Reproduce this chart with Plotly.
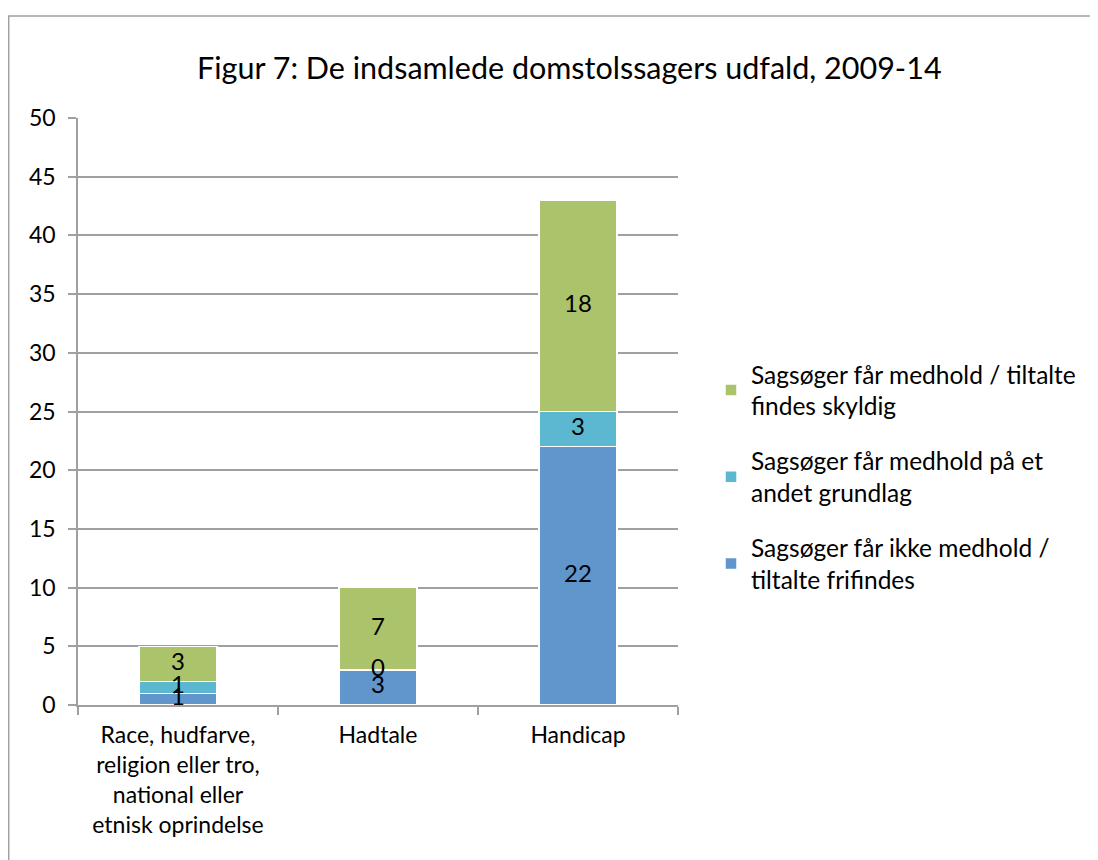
import plotly.graph_objects as go

categories = ["Race, hudfarve,<br>religion eller tro,<br>national eller<br>etnisk oprindelse", "Hadtale", "Handicap"]
series_names = [
    "Sagsøger får ikke medhold /<br>tiltalte frifindes",
    "Sagsøger får medhold på et<br>andet grundlag",
    "Sagsøger får medhold / tiltalte<br>findes skyldig",
]
ikke_medhold = [1, 3, 22]
andet_grundlag = [1, 0, 3]
skyldig = [3, 7, 18]
colors = ["#6096cb", "#5bb8d0", "#abc46c"]
y_ticks = [0, 5, 10, 15, 20, 25, 30, 35, 40, 45, 50]

FONT = "Lato, Open Sans, sans-serif"
series = [ikke_medhold, andet_grundlag, skyldig]

fig = go.Figure()
for i, (name, vals) in enumerate(zip(series_names, series)):
    fig.add_trace(go.Bar(
        x=categories, y=vals, name=name,
        marker=dict(color=colors[i], line=dict(color="white", width=1.5)),
        width=0.39, legendgroup=str(i), legendrank=3 - i,
    ))

# data labels at segment midpoints
base = [0] * len(categories)
for vals in series:
    mids = [b + v / 2 for b, v in zip(base, vals)]
    fig.add_trace(go.Scatter(
        x=categories, y=mids, mode="text", text=[str(v) for v in vals],
        textfont=dict(family=FONT, size=24, color="black"),
        showlegend=False, hoverinfo="skip",
    ))
    base = [b + v for b, v in zip(base, vals)]

fig.add_shape(type="rect", xref="paper", yref="paper",
              x0=-0.1155, x1=2.0, y0=-0.6, y1=1.1738,
              line=dict(color="#a0a0a0", width=1.5), fillcolor="rgba(0,0,0,0)", layer="below")

fig.update_layout(
    width=1090, height=852,
    margin=dict(l=70, r=420, t=110, b=155),
    paper_bgcolor="white", plot_bgcolor="white",
    barmode="stack",
    font=dict(family=FONT, size=22, color="black"),
    title=dict(text="Figur 7: De indsamlede domstolssagers udfald, 2009-14",
               x=0.515, xanchor="center", y=0.929, yanchor="middle",
               font=dict(family=FONT, size=30.5, color="black")),
    legend=dict(x=1.055, xanchor="left", y=0.602, yanchor="top",
                traceorder="grouped", tracegroupgap=20,
                font=dict(family=FONT, size=24.5), bgcolor="rgba(0,0,0,0)"),
    showlegend=True,
)
fig.update_xaxes(showline=True, linecolor="#a0a0a0", linewidth=1.5,
                 ticks="outside", tickson="boundaries", ticklen=8, tickcolor="#a0a0a0",
                 tickwidth=1.5, showgrid=False, tickfont=dict(family=FONT, size=23),
                 ticklabelstandoff=9)
fig.update_yaxes(range=[0, 50], tickvals=y_ticks, showline=True, linecolor="#a0a0a0", linewidth=1.5,
                 ticks="outside", ticklen=8, tickcolor="#a0a0a0", tickwidth=1.5,
                 showgrid=True, gridcolor="#a0a0a0", gridwidth=1.5, zeroline=False,
                 tickfont=dict(family=FONT, size=23), ticklabelstandoff=8)

fig.write_html("out.html")
